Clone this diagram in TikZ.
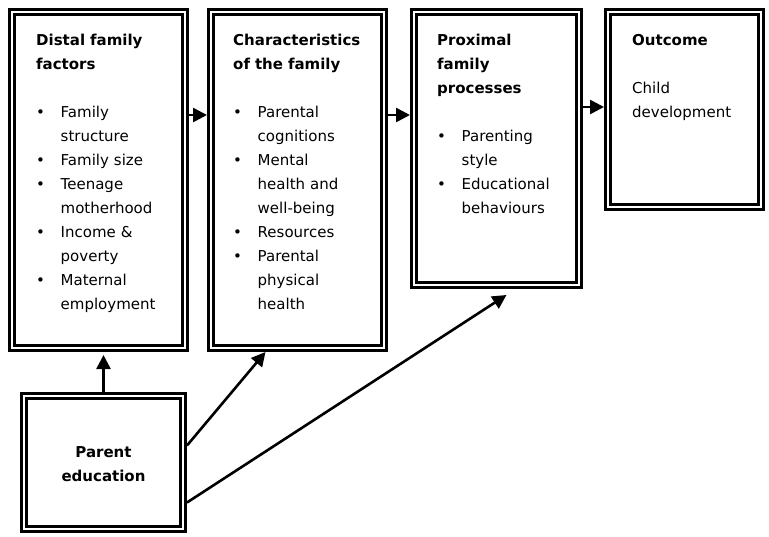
\documentclass[tikz,border=0pt]{standalone}
\usepackage{fontspec}
\setmainfont{DejaVu Sans}
\usetikzlibrary{arrows.meta}
\newcommand\bul{\makebox[24.5pt][l]{•}}
\newcommand\ind{\hspace*{24.5pt}}
\newcommand\fst{\rule{0pt}{15pt}}
\begin{document}
\begin{tikzpicture}[x=1pt,y=-1pt,
  box/.style={draw, rectangle, line width=3.4pt, inner sep=0pt, anchor=north west},
  inl/.style={line width=2.4pt},
  txt/.style={anchor=north west, inner sep=0pt, align=left, text width=160pt, font=\fontsize{15}{24}\selectfont},
  arr/.style={line width=2.6pt, -{Triangle[length=14pt,width=14pt]}}]
\useasboundingbox (0,0) rectangle (769,536);
% boxes
\node[box, minimum width=177.6pt, minimum height=340.6pt] (b1) at (8,8) {};
\node[box, minimum width=177.6pt, minimum height=340.6pt] (b2) at (207,8) {};
\node[box, minimum width=169.6pt, minimum height=277.6pt] (b3) at (410,8) {};
\node[box, minimum width=157.6pt, minimum height=199.6pt] (b4) at (604,8) {};
\node[box, minimum width=163.6pt, minimum height=137.6pt] (b5) at (20,392) {};
\foreach \n in {b1,b2,b3,b4,b5}
  \draw[inl] ([shift={(6.6pt,-6.6pt)}]\n.north west) rectangle ([shift={(-6.6pt,6.6pt)}]\n.south east);
% texts
\node[txt] (t1) at (36,30) {\fst\textbf{Distal family}\\ \textbf{factors}\\[24pt]
  \bul Family\\ \ind structure\\ \bul Family size\\ \bul Teenage\\ \ind motherhood\\
  \bul Income \&\\ \ind poverty\\ \bul Maternal\\ \ind employment};
\node[txt] (t2) at (233,30) {\fst\textbf{Characteristics}\\ \textbf{of the family}\\[24pt]
  \bul Parental\\ \ind cognitions\\ \bul Mental\\ \ind health and\\ \ind well-being\\
  \bul Resources\\ \bul Parental\\ \ind physical\\ \ind health};
\node[txt] (t3) at (437,30) {\fst\textbf{Proximal}\\ \textbf{family}\\ \textbf{processes}\\[24pt]
  \bul Parenting\\ \ind style\\ \bul Educational\\ \ind behaviours};
\node[txt] (t4) at (632,30) {\fst\textbf{Outcome}\\[24pt] Child\\ development};
\node[anchor=north, inner sep=0pt, align=center, font=\fontsize{15}{24}\selectfont] (t5) at (103.5,442)
  {\fst\textbf{Parent}\\ \textbf{education}};
% arrows
\draw[arr] ([yshift=-107pt]b1.north east) -- ([yshift=-107pt]b2.north west);
\draw[arr] ([yshift=-107pt]b2.north east) -- ([yshift=-107pt]b3.north west);
\draw[arr] ([yshift=-99pt]b3.north east) -- ([yshift=-99pt]b4.north west);
\draw[arr] (b5.north) -- ([yshift=-3pt]b5.north |- b1.south);
\draw[arr] ([yshift=17pt]b5.east) -- ([xshift=-32pt]b2.south);
\draw[arr] ([yshift=-40pt]b5.east) -- ([shift={(10pt,-6pt)}]b3.south);
\end{tikzpicture}
\end{document}
